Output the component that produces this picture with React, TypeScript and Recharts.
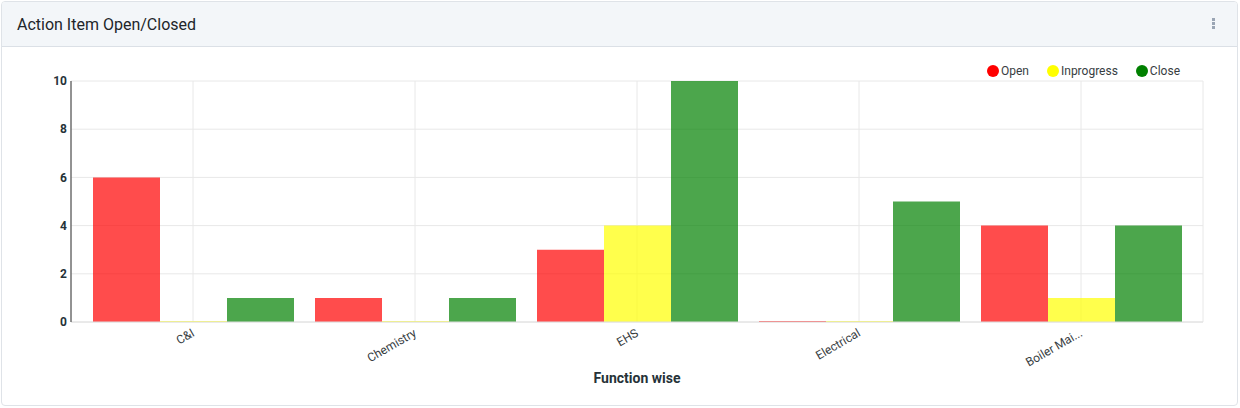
import { Bar, BarChart, CartesianGrid, Legend, XAxis, YAxis } from "recharts";

const categories = ["C&I", "Chemistry", "EHS", "Electrical", "Boiler Mai..."];
const openValues = [6, 1, 3, 0, 4];
const inprogressValues = [0, 0, 4, 0, 1];
const closeValues = [1, 1, 10, 5, 4];
const yTicks = [0, 2, 4, 6, 8, 10];

const seriesDefs = [
  { dataKey: "open", name: "Open", color: "#ff0000" },
  { dataKey: "inprogress", name: "Inprogress", color: "#ffff00" },
  { dataKey: "close", name: "Close", color: "#008000" },
];

const data = categories.map((name, i) => ({
  name,
  open: openValues[i],
  inprogress: inprogressValues[i],
  close: closeValues[i],
}));

const font = "Roboto, 'Noto Sans', sans-serif";

function LegendBox() {
  return (
    <div style={{ display: "flex", gap: 18, fontFamily: font, fontSize: 12, lineHeight: "14px", color: "#373d3f" }}>
      {seriesDefs.map((s) => (
        <div key={s.dataKey} style={{ display: "flex", alignItems: "center" }}>
          <span style={{ width: 12, height: 12, borderRadius: 6, background: s.color, marginRight: 2, display: "inline-block" }} />
          <span>{s.name}</span>
        </div>
      ))}
    </div>
  );
}

export default function App() {
  return (
    <div style={{ position: "absolute", left: 0, top: 0, width: 1240, height: 408, background: "#fff", fontFamily: font }}>
      <div
        style={{
          position: "absolute",
          left: 1,
          top: 1,
          width: 1235,
          height: 403,
          border: "1px solid #dfe3e8",
          borderRadius: 4,
          overflow: "hidden",
        }}
      >
        <div
          style={{
            height: 44,
            background: "#f3f6f9",
            borderBottom: "1px solid #dbe0e6",
            display: "flex",
            alignItems: "center",
            paddingLeft: 15,
            fontSize: 16,
            color: "#212529",
          }}
        >
          Action Item Open/Closed
        </div>
        <div style={{ position: "absolute", left: 1210, top: 16 }}>
          {[0, 1, 2].map((i) => (
            <div key={i} style={{ width: 3, height: 3, background: "#9aa5b4", marginBottom: 1 }} />
          ))}
        </div>
      </div>
      <div style={{ position: "absolute", left: 0, top: 47 }}>
        <BarChart
          width={1240}
          height={358}
          data={data}
          margin={{ top: 20, right: 37, left: 0, bottom: 0 }}
          barCategoryGap={11}
          barGap={0}
        >
          <CartesianGrid stroke="#e8e8e8" />
          <XAxis
            dataKey="name"
            padding={{ left: 11, right: 11 }}
            axisLine={{ stroke: "#e0e0e0" }}
            tickLine={false}
            tickSize={0}
            tickMargin={6}
            interval={0}
            angle={-30}
            textAnchor="end"
            height={83}
            tick={{ fontSize: 12, fill: "#373d3f", fontFamily: font, dx: -2 }}
            label={{ value: "Function wise", position: "insideBottom", offset: 22, style: { fontSize: 14, fontWeight: 700, fill: "#263238", fontFamily: font } }}
          />
          <YAxis
            width={71}
            domain={[0, 10]}
            ticks={yTicks}
            axisLine={{ stroke: "#333" }}
            tickLine={false}
            tickSize={0}
            tickMargin={4}
            tick={{ fontSize: 12, fontWeight: 700, fill: "#263238", fontFamily: font }}
          />
          <Legend verticalAlign="top" align="right" content={() => <LegendBox />} wrapperStyle={{ top: 17, right: 60, width: "auto", left: "auto" }} />
          {seriesDefs.map((s) => (
            <Bar key={s.dataKey} dataKey={s.dataKey} name={s.name} fill={s.color} fillOpacity={0.7} minPointSize={1} isAnimationActive={false} />
          ))}
        </BarChart>
      </div>
    </div>
  );
}
